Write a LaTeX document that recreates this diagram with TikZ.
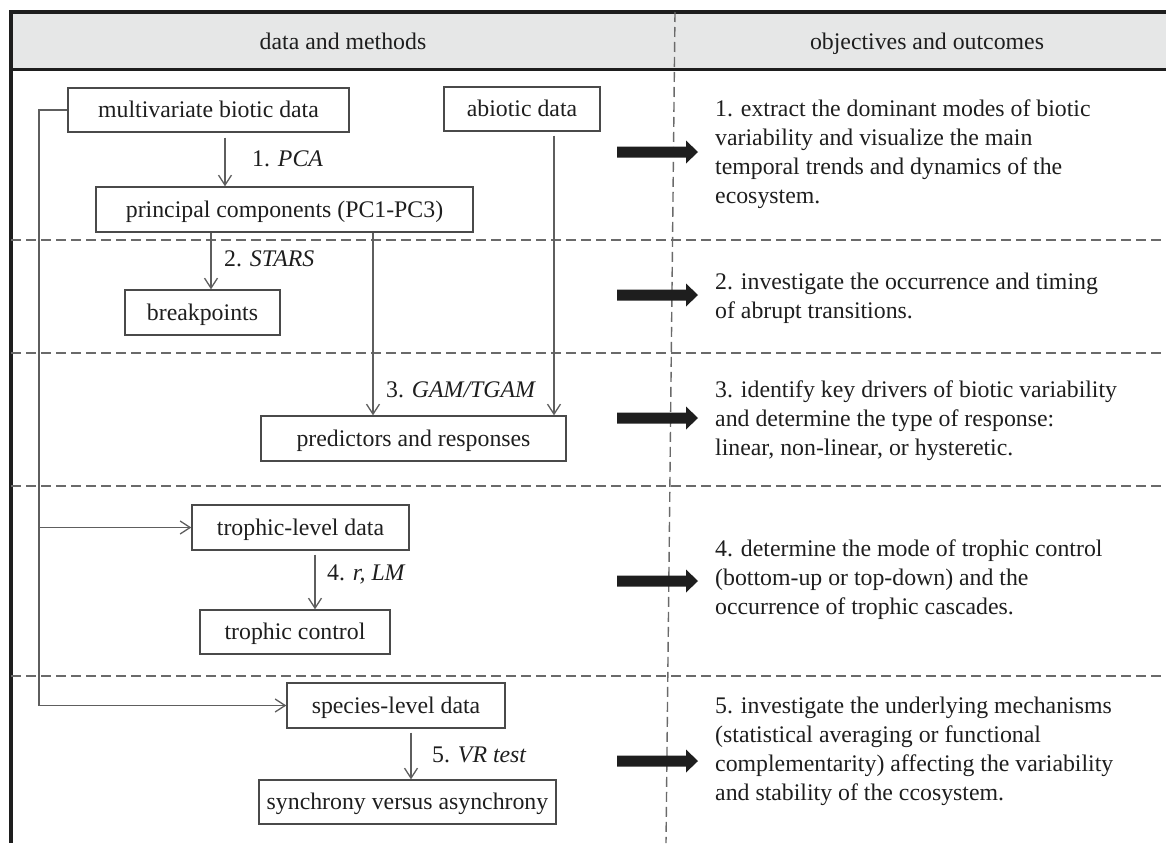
\documentclass[tikz,border=0pt]{standalone}
\usepackage{fontspec}
\setmainfont{Liberation Serif}
\usetikzlibrary{arrows.meta}
\definecolor{hdrgray}{HTML}{E6E7E7}
\definecolor{linegray}{HTML}{5E5E5E}
\definecolor{boxgray}{HTML}{4A4A4A}
\definecolor{dashgray}{HTML}{6A6A6A}
\definecolor{inkblack}{HTML}{1E1E1E}
\begin{document}
\begin{tikzpicture}[x=1pt,y=-1pt,
  every node/.style={font=\fontsize{23.8}{29}\selectfont, text=inkblack},
  databox/.style={draw=boxgray, line width=1.4pt, inner sep=0pt, text height=18pt, text depth=3pt, align=center},
  flow/.style={draw=linegray, line width=1.3pt},
  flowarrow/.style={flow, -{Straight Barb[length=10pt,width=13pt]}},
  steplabel/.style={anchor=base west, inner sep=0pt},
  outcome/.style={anchor=north west, inner sep=0pt, align=left},
  sepline/.style={draw=dashgray, line width=1.4pt, dash pattern=on 10pt off 5pt},
  frameline/.style={draw=inkblack, line width=3.5pt},
  fatarrow/.style={fill=inkblack}
]
\useasboundingbox (0,0) rectangle (1166,843);

% header band and frame
\fill[hdrgray] (11,12) rectangle (1166,69);
\draw[frameline] (1166,12) -- (11,12) -- (11,843);
\draw[draw=inkblack, line width=3pt] (11,69) -- (1166,69);
\node[anchor=base] (hL) at (343,49.5) {data and methods};
\node[anchor=base] (hR) at (927,49.5) {objectives and outcomes};

% dashed separators
\foreach \yy in {240,353,486,676} \draw[sepline] (11,\yy) -- (1166,\yy);
\draw[sepline] (675,12) -- (666,843);

% method boxes
\node[databox, minimum width=281pt, minimum height=44pt] (multi) at (208.5,110) {multivariate biotic data};
\node[databox, minimum width=156pt, minimum height=44pt] (abio) at (522,109) {abiotic data};
\node[databox, minimum width=377pt, minimum height=45pt] (princ) at (284.5,209.5) {principal components (PC1-PC3)};
\node[databox, minimum width=155pt, minimum height=45pt] (brk) at (202.5,312.5) {breakpoints};
\node[databox, minimum width=305pt, minimum height=45pt] (pred) at (413.5,438.5) {predictors and responses};
\node[databox, minimum width=217pt, minimum height=45pt] (trophL) at (300.5,527.5) {trophic-level data};
\node[databox, minimum width=190pt, minimum height=44pt] (trophC) at (295,632) {trophic control};
\node[databox, minimum width=218pt, minimum height=45pt] (species) at (396,705.5) {species-level data};
\node[databox, minimum width=297pt, minimum height=44pt] (sync) at (407.5,802) {synchrony versus asynchrony};

% x positions of the connectors
\coordinate (xPCA) at (225,0);
\coordinate (xSTARS) at (211,0);
\coordinate (xGAM) at (373,0);
\coordinate (xABIO) at (554,0);
\coordinate (xLM) at (315,0);
\coordinate (xVR) at (411,0);
\coordinate (xFeed) at (39,0);

% connectors
\draw[flowarrow, shorten <=5pt] (multi.south -| xPCA) -- (xPCA |- princ.north);
\draw[flowarrow] (princ.south -| xSTARS) -- (xSTARS |- brk.north);
\draw[flowarrow] (princ.south -| xGAM) -- (xGAM |- pred.north);
\draw[flowarrow, shorten <=4pt] (abio.south -| xABIO) -- (xABIO |- pred.north);
\draw[flowarrow] (multi.west) -| (xFeed |- species.west) -- (species.west);
\draw[flowarrow] (xFeed |- trophL.west) -- (trophL.west);
\draw[flowarrow, shorten <=4pt] (trophL.south -| xLM) -- (xLM |- trophC.north);
\draw[flowarrow, shorten <=4pt] (species.south -| xVR) -- (xVR |- sync.north);

% step labels
\node[steplabel] (l1) at (252,166) {1. \textit{PCA}};
\node[steplabel] (l2) at (224,266) {2. \textit{STARS}};
\node[steplabel] (l3) at (386,397) {3. \textit{GAM/TGAM}};
\node[steplabel] (l4) at (327,580) {4. \textit{r, LM}};
\node[steplabel] (l5) at (432,762) {5. \textit{VR test}};

% fat arrows
\foreach \yy in {152,295,418,581,761}
  \fill[fatarrow] (617,\yy-5.5) -- (686,\yy-5.5) -- (686,\yy-11.5) -- (698,\yy) -- (686,\yy+11.5) -- (686,\yy+5.5) -- (617,\yy+5.5) -- cycle;

% outcomes
\node[outcome] (o1) at (715,95.7) {\strut 1. extract the dominant modes of biotic\\variability and visualize the main\\temporal trends and dynamics of the\\ecosystem.};
\node[outcome] (o2) at (715,268.7) {\strut 2. investigate the occurrence and timing\\of abrupt transitions.};
\node[outcome] (o3) at (715,376.7) {\strut 3. identify key drivers of biotic variability\\and determine the type of response:\\linear, non-linear, or hysteretic.};
\node[outcome] (o4) at (715,535.7) {\strut 4. determine the mode of trophic control\\(bottom-up or top-down) and the\\occurrence of trophic cascades.};
\node[outcome] (o5) at (715,692.7) {\strut 5. investigate the underlying mechanisms\\(statistical averaging or functional\\complementarity) affecting the variability\\and stability of the ccosystem.};
\end{tikzpicture}
\end{document}
